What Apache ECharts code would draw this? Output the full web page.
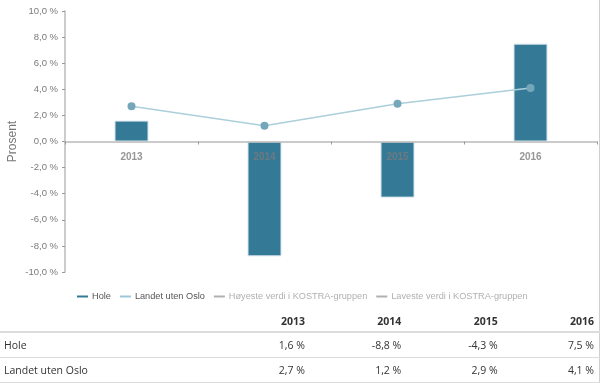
<!DOCTYPE html>
<html><head><meta charset="utf-8">
<script src="https://cdn.jsdelivr.net/npm/echarts@6/dist/echarts.min.js"></script>
<style>
html,body{margin:0;padding:0;background:#fff;}
#wrap{position:relative;width:605px;height:383px;overflow:hidden;}
#chart{position:absolute;left:0;top:0;width:605px;height:310px;}
#vline{position:absolute;left:599px;top:0;width:1px;height:383px;background:#cfcfcf;}
#tbl{position:absolute;left:0;top:310px;width:600px;border-collapse:collapse;font-family:"Open Sans","Noto Sans",sans-serif;font-size:10.5px;color:#333;}
#tbl td{height:24px;padding:0;border-bottom:1px solid #dcdcdc;}
#tbl tr.h td{font-weight:bold;border-bottom:2px solid #dcdcdc;height:21px;}
#tbl td.n{text-align:right;}
</style></head>
<body><div id="wrap"><div id="chart"></div><div id="vline"></div><table id="tbl"></table></div>
<script>
const years = ['2013','2014','2015','2016'];
const hole = [1.6, -8.8, -4.3, 7.5];
const landet = [2.7, 1.2, 2.9, 4.1];
const seriesNames = ['Hole','Landet uten Oslo','Høyeste verdi i KOSTRA-gruppen','Laveste verdi i KOSTRA-gruppen'];
const yTicks = {min:-10, max:10, interval:2};

function fmt(v){ return v.toFixed(1).replace('.', ',') + ' %'; }

const chart = echarts.init(document.getElementById('chart'));
chart.setOption({
  animation:false,
  grid:{left:65, right:8, top:11, height:261, outerBoundsMode:'none'},
  legend:{
    data:[
      {name:seriesNames[0], icon:'rect', itemStyle:{color:'#347a97', borderWidth:0}},
      {name:seriesNames[1], icon:'rect', itemStyle:{color:'#9cc7d6', borderWidth:0}},
      {name:seriesNames[2], icon:'rect'},
      {name:seriesNames[3], icon:'rect'}
    ],
    selected:{[seriesNames[2]]:false,[seriesNames[3]]:false},
    left:72, top:287, itemWidth:11, itemHeight:2, itemGap:9,
    inactiveColor:'#b0b0b0',
    textStyle:{fontFamily:'Liberation Sans, Arial', fontSize:9.2, color:'#555', padding:[0,0,0,-1]}
  },
  xAxis:{
    type:'category', data:years, z:5,
    axisLine:{onZero:true, lineStyle:{color:'#bbbbbb', width:1.5}},
    axisTick:{show:true, length:3, lineStyle:{color:'#999'}},
    axisLabel:{show:false}
  },
  yAxis:{
    type:'value', min:yTicks.min, max:yTicks.max, interval:yTicks.interval,
    name:'Prosent', nameLocation:'middle', nameGap:46, nameMoveOverlap:false,
    nameTextStyle:{color:'#777', fontSize:12, fontFamily:'Liberation Sans, Arial'},
    axisLine:{show:true, lineStyle:{color:'#bbbbbb', width:1.5}},
    axisTick:{show:true, length:3, lineStyle:{color:'#999'}},
    splitLine:{show:false},
    axisLabel:{formatter:fmt, color:'#7a7a7a', fontSize:9.5, fontFamily:'Liberation Sans, Arial', margin:7}
  },
  series:[
    {name:seriesNames[0], type:'bar', data:hole, barWidth:34, z:2,
     itemStyle:{color:'#347a97', borderColor:'#d7e5ec', borderWidth:1}},
    {name:seriesNames[1], type:'line', data:landet, z:6,
     symbol:'circle', symbolSize:8,
     lineStyle:{color:'#abcfdb', width:1.5},
     itemStyle:{color:'#75a7bb'}},
    {name:seriesNames[2], type:'line', data:[], itemStyle:{color:'#888'}, lineStyle:{color:'#888'}},
    {name:seriesNames[3], type:'line', data:[], itemStyle:{color:'#888'}, lineStyle:{color:'#888'}},
    {name:'catLabels', type:'scatter', data:years.map(y => [y, 0]), symbolSize:0, z:8,
     silent:true, legendHoverLink:false,
     label:{show:true, position:'bottom', distance:11, formatter:p => p.value[0],
            color:'#7a7a7a', fontSize:10, fontWeight:'bold', fontFamily:'Liberation Sans, Arial'}}
  ]
});

const tbl = document.getElementById('tbl');
let html = '<tr class="h"><td style="width:210px"></td>';
years.forEach(y => html += '<td class="n" style="width:97px">' + y + '</td>');
html += '<td style="width:6px"></td></tr>';
[[seriesNames[0], hole],[seriesNames[1], landet]].forEach(([n, arr]) => {
  html += '<tr><td style="padding-left:4px">' + n + '</td>';
  arr.forEach(v => html += '<td class="n">' + fmt(v) + '</td>');
  html += '<td></td></tr>';
});
tbl.innerHTML = html;
</script></body></html>
